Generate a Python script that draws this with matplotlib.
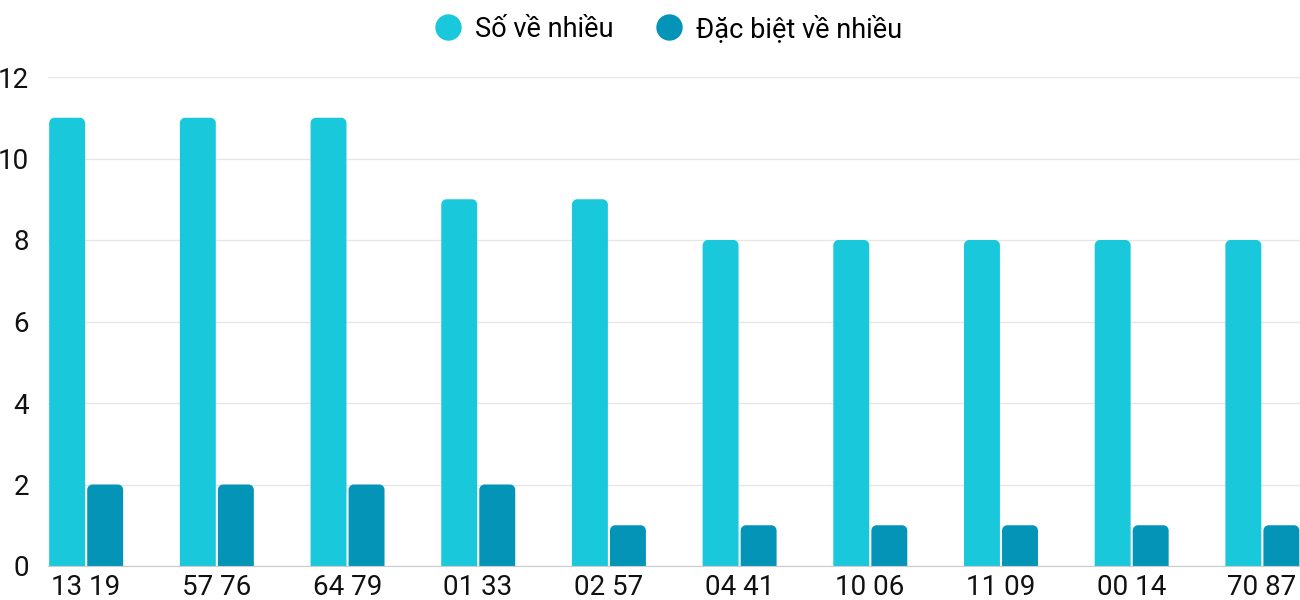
import numpy as np
import matplotlib.pyplot as plt
from matplotlib.path import Path
from matplotlib.patches import PathPatch
from matplotlib.lines import Line2D

plt.rcParams['font.family'] = ['Roboto', 'DejaVu Sans']

# data
pairs = ['13 19', '57 76', '64 79', '01 33', '02 57', '04 41', '10 06', '11 09', '00 14', '70 87']
so_ve_nhieu = [11, 11, 11, 9, 9, 8, 8, 8, 8, 8]
dac_biet = [2, 2, 2, 2, 1, 1, 1, 1, 1, 1]

c_light = '#1ac8db'
c_dark = '#0494b8'


def rounded_bar(ax, x0, w, h, rx, ry, color):
    # bar with rounded top corners, built in data coordinates
    k = 0.5523
    x1 = x0 + w
    verts = [
        (x0, 0), (x1, 0), (x1, h - ry),
        (x1, h - ry + k * ry), (x1 - rx + k * rx, h), (x1 - rx, h),
        (x0 + rx, h),
        (x0 + rx - k * rx, h), (x0, h - ry + k * ry), (x0, h - ry),
        (x0, 0),
    ]
    codes = [Path.MOVETO, Path.LINETO, Path.LINETO,
             Path.CURVE4, Path.CURVE4, Path.CURVE4,
             Path.LINETO,
             Path.CURVE4, Path.CURVE4, Path.CURVE4,
             Path.CLOSEPOLY]
    ax.add_patch(PathPatch(Path(verts, codes), facecolor=color, edgecolor='none', zorder=3))


fig = plt.figure(figsize=(13, 6), dpi=100)
ax = fig.add_axes([48 / 1300, 34 / 600, 1 - 48 / 1300, (566 - 77) / 600])

x = np.arange(len(pairs))
bw = 0.275
rx, ry = 0.04, 0.13
for i in x:
    rounded_bar(ax, i - bw - 0.006, bw, so_ve_nhieu[i], rx, ry, c_light)
    rounded_bar(ax, i + 0.01, bw, dac_biet[i], rx, ry, c_dark)

ax.set_xlim(-0.29, len(pairs) - 1 + 0.29)
ax.set_ylim(0, 12)
ax.set_yticks(range(0, 13, 2))
ax.set_xticks(x)
ax.set_xticklabels(pairs)
ax.tick_params(axis='both', length=0, labelsize=20, colors='#111111')
ax.tick_params(axis='y', pad=13.5)
ax.tick_params(axis='x', pad=6)
ax.grid(axis='y', color='#e6e6e6', linewidth=1, zorder=0)
ax.set_axisbelow(True)
for s in ['top', 'right', 'left']:
    ax.spines[s].set_visible(False)
ax.spines['bottom'].set_color('#cccccc')
ax.spines['bottom'].set_zorder(4)

handles = [
    Line2D([], [], marker='o', linestyle='none', markersize=19, markerfacecolor=c_light, markeredgecolor='none'),
    Line2D([], [], marker='o', linestyle='none', markersize=19, markerfacecolor=c_dark, markeredgecolor='none'),
]
fig.legend(handles, ['Số về nhiều', 'Đặc biệt về nhiều'], loc='center', bbox_to_anchor=(0.5135, 0.952),
           ncol=2, frameon=False, fontsize=19.5, handletextpad=0.45, columnspacing=1.5, handlelength=1.1)

fig.savefig('out.png', dpi=100)
